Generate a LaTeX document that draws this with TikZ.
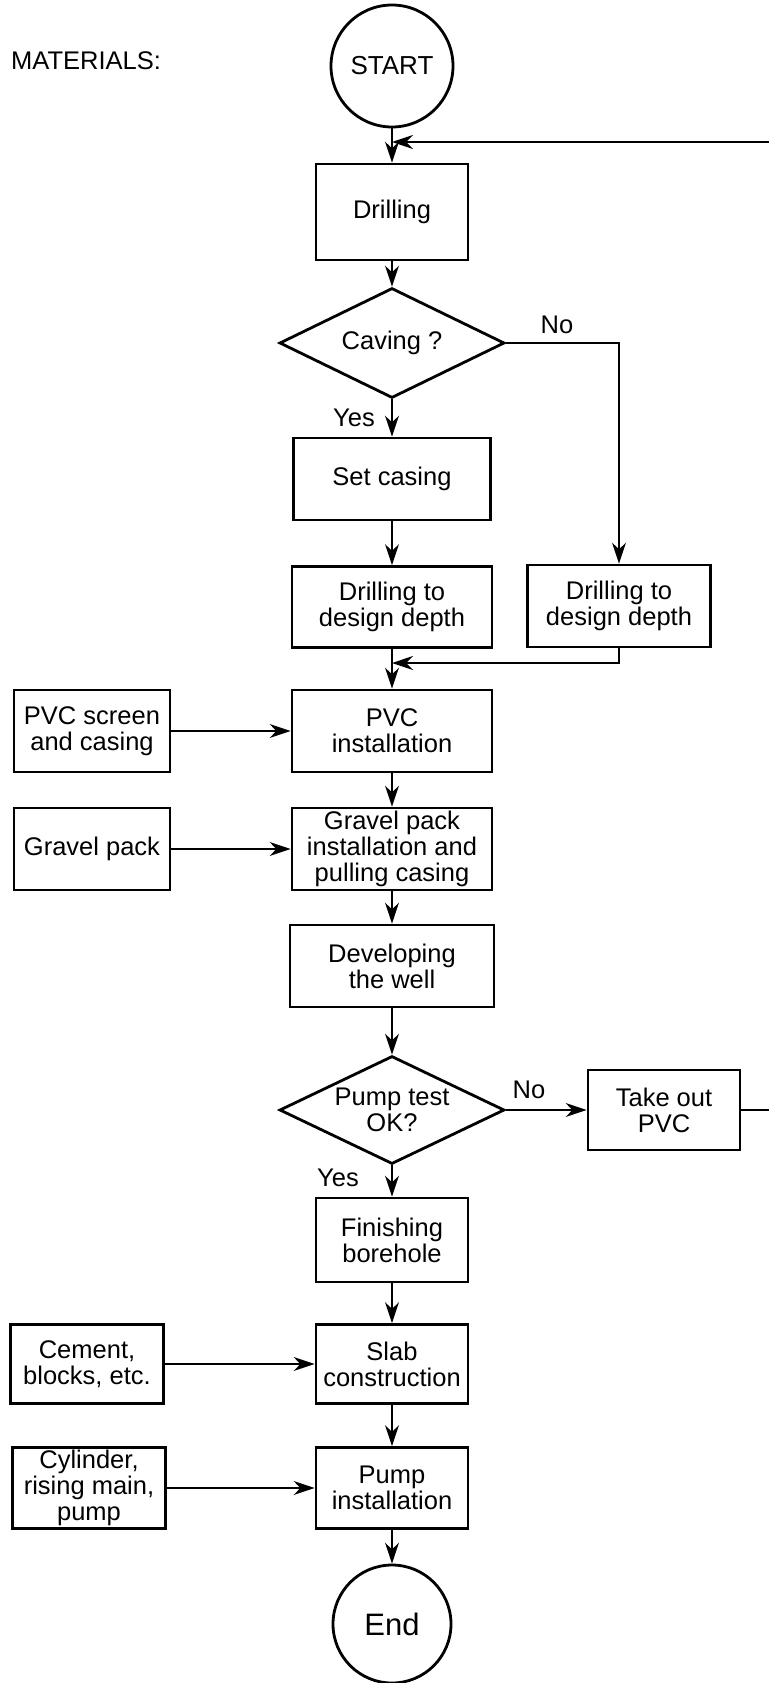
\documentclass[tikz,border=0pt]{standalone}
\usepackage{fontspec}
\setmainfont{Liberation Sans}
\usetikzlibrary{arrows.meta, shapes.geometric, calc}

\tikzset{
	proc/.style = {draw, line width=2.8pt, rectangle, align=center, inner sep=0pt,
		font=\fontsize{25.5}{26}\selectfont},
	decide/.style = {draw, line width=2.8pt, diamond, aspect=2, inner sep=0pt,
		align=center, minimum width=225pt, font=\fontsize{25.5}{26.5}\selectfont},
	term/.style = {draw, line width=2.8pt, circle, inner sep=0pt},
	lbl/.style = {inner sep=0pt, font=\fontsize{25.5}{26}\selectfont},
	link/.style = {line width=1.6pt, -{Stealth[length=21pt, width=14pt]}}
}

\begin{document}
\begin{tikzpicture}[x=1pt, y=-1pt]
			\def\cx{392};
			\def\rx{800};
			
			\useasboundingbox (0,0) rectangle (768,1683);
			
			\node [lbl, anchor=west] (materials) at (11,61) {MATERIALS:};
			
			% main column
			\node [term, minimum size=122pt, font=\fontsize{26}{27}\selectfont] (start) at (\cx,66) {START};
			\node [proc, minimum width=152pt, minimum height=96pt] (drill) at (\cx,212) {Drilling};
			\node [decide, minimum height=110pt] (caving) at (\cx,343) {Caving ?};
			\node [proc, minimum width=197pt, minimum height=82pt] (casing) at (\cx,479) {Set casing};
			\node [proc, minimum width=200pt, minimum height=81pt] (deep1) at (\cx,607) {Drilling to\\design depth};
			\node [proc, minimum width=183pt, minimum height=82pt] (deep2) at (619,606) {Drilling to\\design depth};
			\node [proc, minimum width=200pt, minimum height=82pt] (pvc) at (\cx,731) {PVC\\installation};
			\node [proc, minimum width=200pt, minimum height=82pt] (gravel) at (\cx,849) {Gravel pack\\installation and\\pulling casing};
			\node [proc, minimum width=204pt, minimum height=82pt] (develop) at (\cx,966) {Developing\\the well};
			\node [decide, minimum height=108pt] (pumptest) at (\cx,1110) {Pump test\\OK?};
			\node [proc, minimum width=152pt, minimum height=80pt] (takeout) at (664,1110) {Take out\\PVC};
			\node [proc, minimum width=152pt, minimum height=84pt] (finish) at (\cx,1240) {Finishing\\borehole};
			\node [proc, minimum width=152pt, minimum height=79pt] (slab) at (\cx,1364) {Slab\\construction};
			\node [proc, minimum width=152pt, minimum height=81pt] (pumpinst) at (\cx,1488) {Pump\\installation};
			\node [term, minimum size=118pt, font=\fontsize{31}{32}\selectfont] (end) at (\cx,1624) {End};
			
			% materials column
			\node [proc, minimum width=156pt, minimum height=82pt] (screen) at (92,731) {PVC screen\\and casing};
			\node [proc, minimum width=156pt, minimum height=82pt] (gravelmat) at (92,849) {Gravel pack};
			\node [proc, minimum width=153pt, minimum height=79pt] (cement) at (87,1364) {Cement,\\blocks, etc.};
			\node [proc, minimum width=153pt, minimum height=81pt] (cylinder) at (89,1488) {Cylinder,\\rising main,\\pump};
			
			% branch labels
			\node [lbl] (no1) at (557,325) {No};
			\node [lbl] (yes1) at (354,418) {Yes};
			\node [lbl] (no2) at (529,1090) {No};
			\node [lbl] (yes2) at (338,1178) {Yes};
			
			\coordinate (back) at (\cx,142);
			\coordinate (join) at (\cx,663);
			
			\begin{scope}[link]
				\draw (start) -- (drill);
				\draw (drill) -- (caving);
				\draw (caving) -- (casing);
				\draw (casing) -- (deep1);
				\draw (caving.east) -| (deep2.north);
				\draw (deep2.south) |- (join);
				\draw (deep1) -- (pvc);
				\draw (screen) -- (pvc);
				\draw (pvc) -- (gravel);
				\draw (gravelmat) -- (gravel);
				\draw (gravel) -- (develop);
				\draw (develop) -- (pumptest);
				\draw (pumptest) -- (takeout);
				\draw (takeout.east) -- (\rx,1110) |- (back);
				\draw (pumptest) -- (finish);
				\draw (finish) -- (slab);
				\draw (cement) -- (slab);
				\draw (slab) -- (pumpinst);
				\draw (cylinder) -- (pumpinst);
				\draw (pumpinst) -- (end);
			\end{scope}
		\end{tikzpicture}
\end{document}
